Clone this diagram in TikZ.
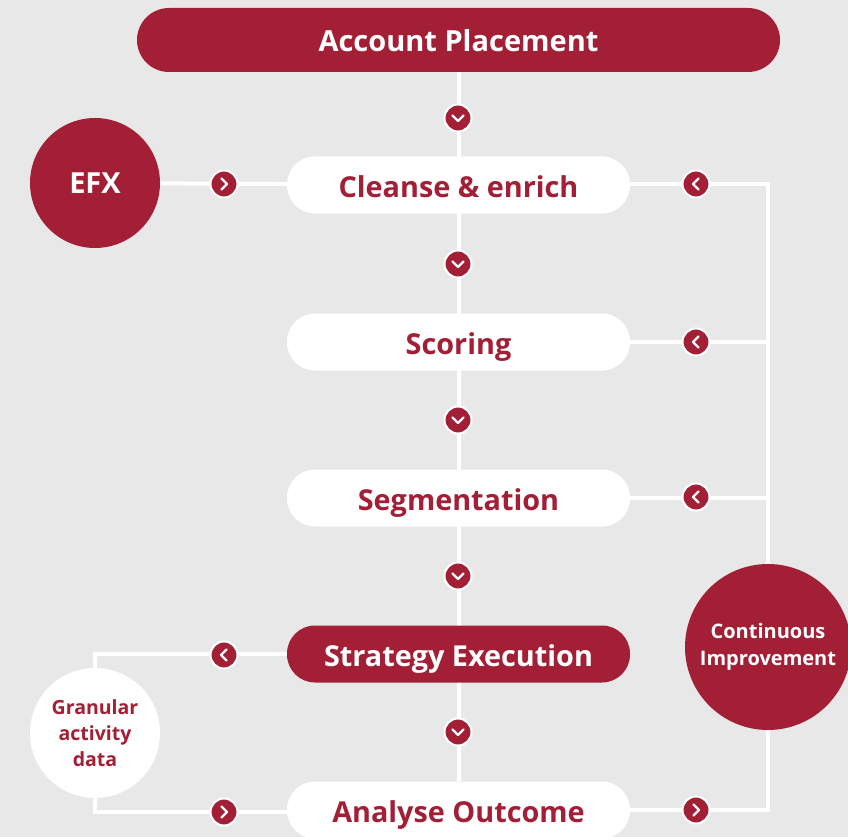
\documentclass[tikz,border=0pt]{standalone}
\usepackage{fontspec}
\setmainfont{Open Sans}
\usetikzlibrary{backgrounds}
\definecolor{crim}{HTML}{A31F36}
\definecolor{bg}{HTML}{E8E8E8}
\tikzset{
  pillbase/.style={rounded corners=28pt, minimum width=343pt, minimum height=57pt, font=\bfseries\fontsize{28.8}{32}\selectfont, inner sep=0pt, text height=27pt, text depth=2pt},
  pillred/.style={pillbase, fill=crim, text=white},
  pillwhite/.style={pillbase, fill=white, text=crim},
  chevc/.style={circle, fill=crim, draw=white, line width=2pt, minimum size=27pt, inner sep=0pt},
  chevline/.style={white, line width=2.4pt, line cap=round, line join=round},
  conn/.style={white, line width=4pt},
  bigcirc/.style={circle, inner sep=0pt, align=center},
}
\begin{document}
\begin{tikzpicture}[x=1pt,y=-1pt]
\useasboundingbox (0,0) rectangle (848,837);
\clip (0,0) rectangle (848,837);
% nodes
\node[pillred, minimum width=643pt, minimum height=64pt, rounded corners=32pt, font=\bfseries\fontsize{29}{32}\selectfont, text height=25.5pt] (ap) at (458.5,40) {Account Placement};
\node[pillwhite] (ce) at (458.5,185) {Cleanse \& enrich};
\node[pillwhite] (sc) at (458.5,342) {Scoring};
\node[pillwhite] (sg) at (458.5,498) {Segmentation};
\node[pillred] (se) at (458.5,654) {Strategy Execution};
\node[pillwhite] (ao) at (458.5,810) {Analyse Outcome};
\node[bigcirc, fill=crim, text=white, minimum size=130pt, font=\bfseries\fontsize{29}{32}\selectfont] (efx) at (95,183) {EFX};
\node[bigcirc, fill=white, text=crim, minimum size=130pt, font=\bfseries\fontsize{19.5}{26}\selectfont] (gr) at (95,733) {Granular\\activity\\data};
\node[bigcirc, fill=crim, text=white, minimum size=166pt, font=\bfseries\fontsize{20}{27}\selectfont] (ci) at (768,647) {Continuous\\Improvement};
\coordinate (rt) at (768,184);
% connectors
\begin{scope}[on background layer]
\fill[bg] (0,0) rectangle (848,837);
\draw[conn] (ap) -- (ao);
\draw[conn] (efx) -- (ce);
\draw[conn] (ce.east |- rt) -- (rt) -- (ci);
\draw[conn] (sc) -- (sc -| ci);
\draw[conn] (sg) -- (sg -| ci);
\draw[conn] (ao) -| (ci);
\draw[conn] (se) -| (gr);
\draw[conn] (ao.west |- 0,812) -| (gr);
\end{scope}
% chevrons down
\foreach \n/\y in {d1/118,d2/264,d3/420,d4/576,d5/732}{
  \node[chevc] (\n) at (458,\y) {};
  \draw[chevline, shift={(\n.center)}] (-5.5,-2.5) -- (0,3) -- (5.5,-2.5);
}
% chevrons right
\foreach \n/\x/\y in {r1/224/184,r2/224/812,r3/696/810}{
  \node[chevc] (\n) at (\x,\y) {};
  \draw[chevline, shift={(\n.center)}] (-2.5,-5.5) -- (3,0) -- (-2.5,5.5);
}
% chevrons left
\foreach \n/\x/\y in {l1/696/184,l2/696/342,l3/696/497,l4/224/655}{
  \node[chevc] (\n) at (\x,\y) {};
  \draw[chevline, shift={(\n.center)}] (2.5,-5.5) -- (-3,0) -- (2.5,5.5);
}
\end{tikzpicture}
\end{document}
